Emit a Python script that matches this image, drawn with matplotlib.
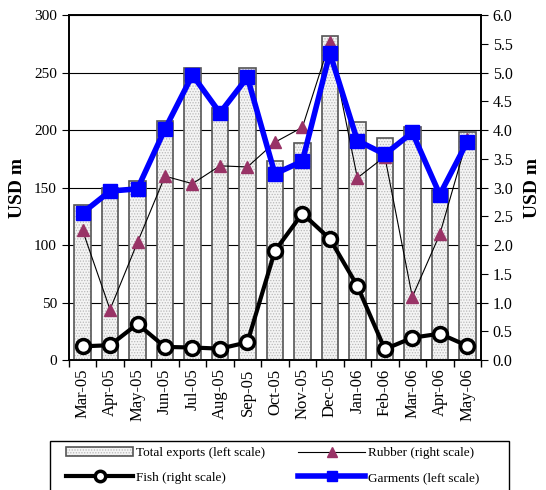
import numpy as np
import matplotlib.pyplot as plt
from matplotlib.patches import Rectangle

plt.rcParams['font.family'] = ['Liberation Serif', 'DejaVu Serif']
plt.rcParams['hatch.linewidth'] = 0.6

# %% Data

months = ["Mar-05", "Apr-05", "May-05", "Jun-05", "Jul-05", "Aug-05", "Sep-05", "Oct-05",
          "Nov-05", "Dec-05", "Jan-06", "Feb-06", "Mar-06", "Apr-06", "May-06"]

total_exports = [135, 150, 156, 208, 254, 219, 254, 173, 189, 282, 207, 193, 203, 148, 198]   # left scale
garments = [128, 147, 149, 201, 248, 215, 246, 162, 173, 267, 191, 179, 198, 144, 190]        # left scale
rubber = [2.26, 0.88, 2.05, 3.20, 3.07, 3.38, 3.36, 3.79, 4.05, 5.54, 3.17, 3.54, 1.10, 2.19, 3.85]  # right scale
fish = [0.24, 0.26, 0.63, 0.23, 0.22, 0.20, 0.31, 1.90, 2.55, 2.11, 1.29, 0.19, 0.39, 0.46, 0.25]    # right scale

# %% Plot

x = np.arange(len(months))

fig = plt.figure(figsize=(5.46, 4.9), dpi=100)
ax = fig.add_axes([0.126, 0.265, 0.755, 0.704])

ax.set_axisbelow(True)
ax.yaxis.grid(True, color="black", lw=0.8)
fill_bars = ax.bar(x, total_exports, width=0.6, color="#f4f4f4", edgecolor="#b8b8b8",
                   hatch="......", lw=0, zorder=2)
bars = ax.bar(x, total_exports, width=0.6, fill=False, edgecolor="#555555", lw=1.2, zorder=3)
ax.set_ylim(0, 300)
ax.set_yticks(np.arange(0, 301, 50))
ax.set_xlim(-0.5, len(months) - 0.5)
ax.set_xticks(x)
ax.set_xticklabels(months, rotation=90, fontsize=12)
ax.set_xticks(np.arange(-0.5, len(months), 1), minor=True)
ax.tick_params(axis="x", which="major", length=0, pad=6)
ax.tick_params(axis="x", which="minor", length=5, direction="out", width=1)
ax.tick_params(axis="y", labelsize=11, length=5, direction="out")
ax.set_ylabel("USD m", fontsize=14, fontweight="bold", labelpad=6)

# right scale: rubber and fish
ax2 = ax.twinx()
ax2.set_ylim(0, 6)
ax2.set_yticks(np.arange(0, 6.01, 0.5))
ax2.set_yticklabels([f"{v:.1f}" for v in np.arange(0, 6.01, 0.5)])
ax2.tick_params(axis="y", labelsize=11.5, length=5, direction="out")
ax2.set_ylabel("USD m", fontsize=14, fontweight="bold", rotation=90, labelpad=8)

l_rub, = ax2.plot(x, rubber, color="black", lw=0.8, marker="^", ms=9,
                  mfc="#993366", mec="#993366", zorder=3)
l_fish, = ax2.plot(x, fish, color="black", lw=3, marker="o", ms=10,
                   mfc="white", mec="black", mew=2.5, zorder=4)

# garments on left scale, drawn on top
ax3 = ax.twinx()
ax3.set_ylim(0, 300)
ax3.axis("off")
l_gar, = ax3.plot(x, garments, color="#0000ff", lw=4, marker="s", ms=10,
                  mfc="#0000ff", mec="#0000ff", zorder=5)

for a in (ax, ax2):
    for s in a.spines.values():
        s.set_linewidth(1.2)

# legend box (wider than its content, runs off the bottom)
fig.patches.append(Rectangle((50 / 546, -0.05), 459 / 546, 0.05 + 49 / 490,
                             transform=fig.transFigure, fill=False, edgecolor="black", lw=1))

leg = fig.legend([(fill_bars, bars), l_fish, l_rub, l_gar],
                 ["Total exports (left scale)", "Fish (right scale)",
                  "Rubber (right scale)", "Garments (left scale)"],
                 loc="upper left", bbox_to_anchor=(66 / 546, 1 - 447 / 490), ncol=2,
                 fontsize=9.5, frameon=False,
                 handlelength=5.1, columnspacing=2.5, borderpad=0, labelspacing=0.95,
                 handletextpad=0.2, markerscale=0.75, borderaxespad=0)

fig.savefig("out.png", dpi=100)
